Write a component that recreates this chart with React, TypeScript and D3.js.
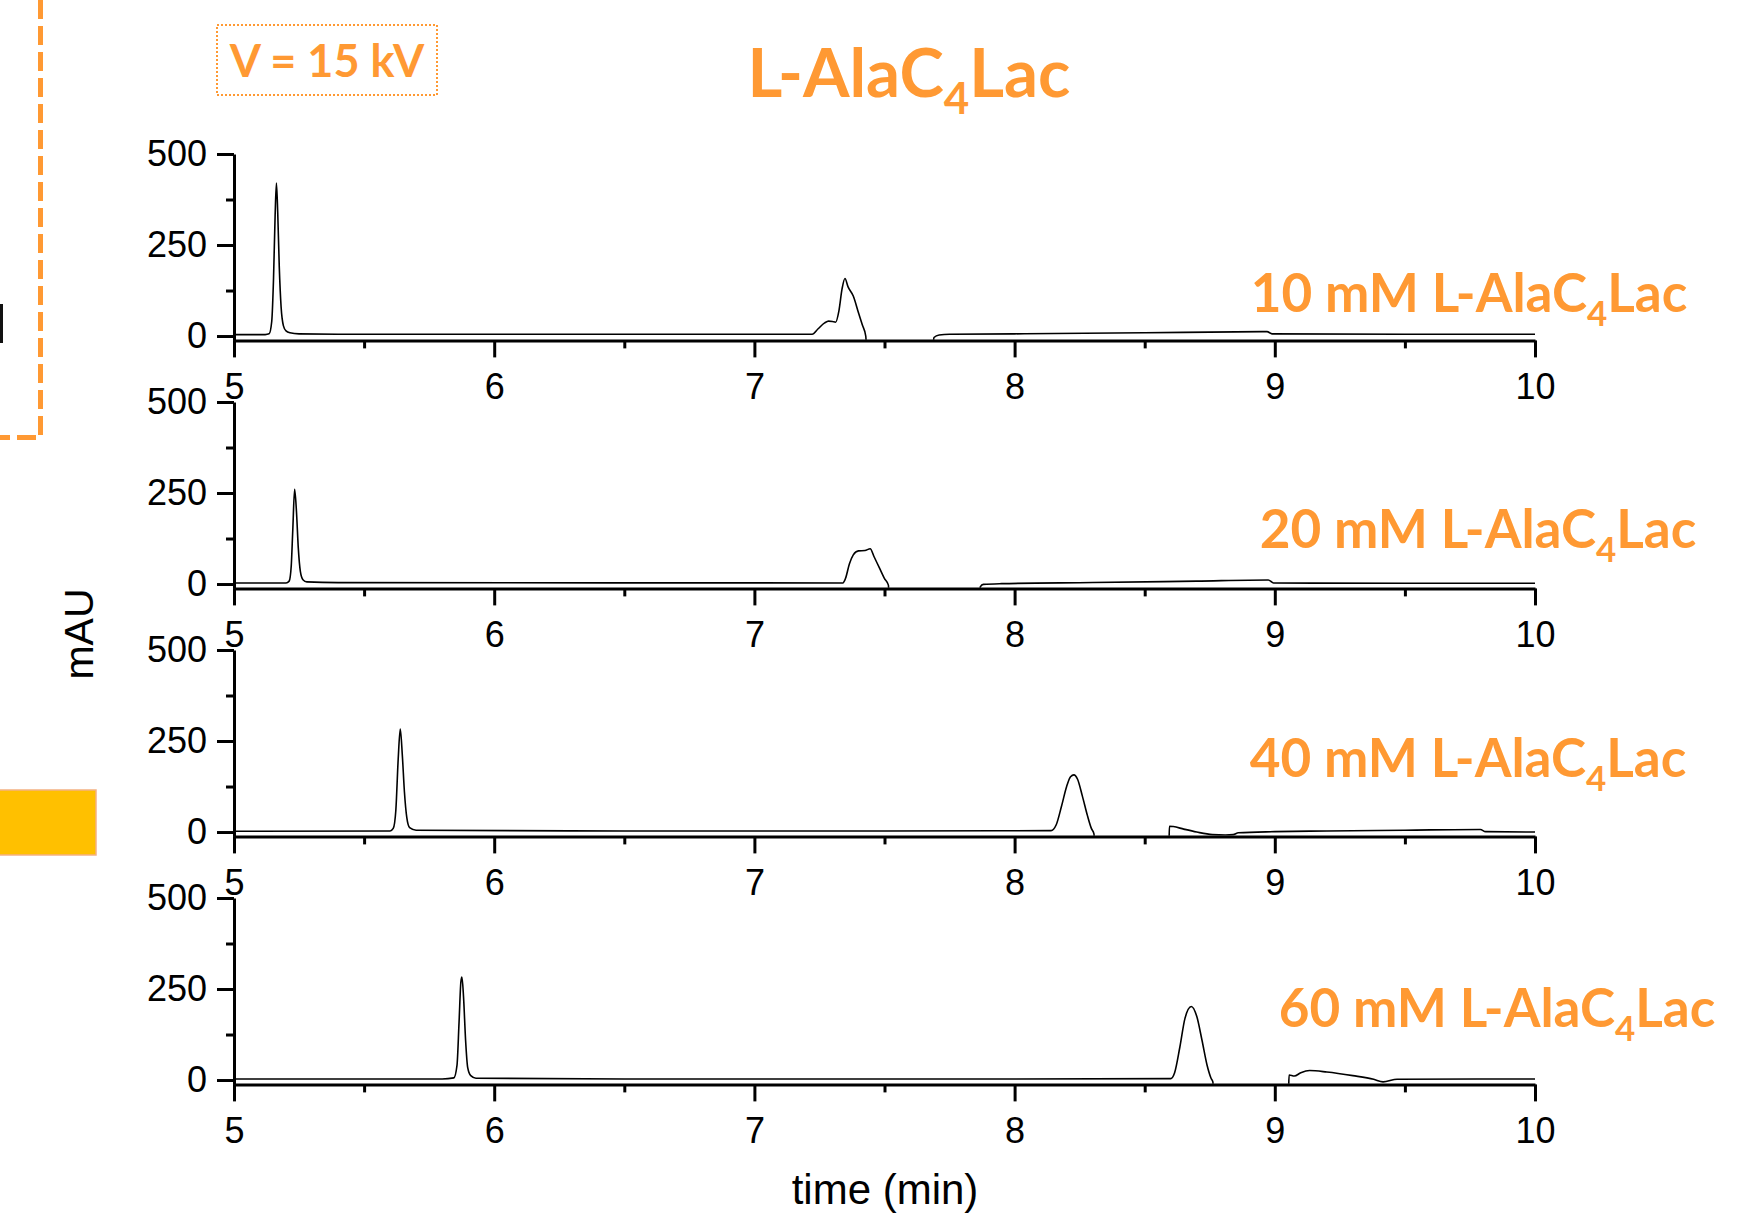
import React, { useEffect, useRef } from "react";
import * as d3 from "d3";

// electropherograms, [time (min), mAU]
const trace10 = [
  [5.0, 4], [5.12, 4], [5.135, 6], [5.145, 40], [5.152, 160], [5.158, 330], [5.163, 420],
  [5.168, 340], [5.174, 190], [5.181, 80], [5.19, 28], [5.2, 14], [5.215, 9], [5.25, 6],
  [5.4, 5], [6.5, 5], [7.222, 5], [7.245, 20], [7.27, 36], [7.285, 41], [7.3, 40],
  [7.312, 38], [7.325, 70], [7.337, 130], [7.348, 158], [7.36, 135], [7.38, 110], [7.4, 64],
  [7.415, 30], [7.428, 0], [7.432, -40], [7.685, -40], [7.69, -4], [7.71, 3], [7.75, 5],
  [8.0, 6], [8.5, 9], [8.97, 12], [8.99, 6], [9.5, 5], [10.0, 5],
];
const trace20 = [
  [5.0, 3], [5.2, 3], [5.212, 8], [5.22, 50], [5.226, 150], [5.233, 260], [5.24, 200],
  [5.247, 100], [5.255, 35], [5.265, 12], [5.28, 6], [5.4, 4], [7.34, 3], [7.35, 15],
  [7.365, 55], [7.38, 80], [7.4, 91], [7.425, 92], [7.445, 97], [7.46, 75], [7.48, 45],
  [7.5, 15], [7.515, -3], [7.518, -40], [7.866, -40], [7.868, -8], [7.88, -1], [7.95, 1],
  [8.3, 4], [8.7, 8], [8.975, 11], [8.995, 3], [9.5, 2], [10.0, 2],
];
const trace40 = [
  [5.0, 2], [5.6, 3], [5.612, 10], [5.622, 60], [5.631, 200], [5.639, 283], [5.647, 210],
  [5.655, 110], [5.664, 40], [5.675, 12], [5.7, 5], [6.5, 3], [7.5, 3], [8.14, 4],
  [8.16, 20], [8.18, 70], [8.2, 125], [8.215, 152], [8.228, 157], [8.242, 145], [8.26, 100],
  [8.28, 45], [8.295, 10], [8.305, -5], [8.308, -40], [8.593, -40], [8.595, 16], [8.61, 15],
  [8.65, 8], [8.7, 0], [8.76, -7], [8.81, -8], [8.84, -7], [8.86, -2], [9.0, 1], [9.2, 3],
  [9.5, 5], [9.79, 7], [9.81, 1], [10.0, 0],
];
const trace60 = [
  [5.0, 3], [5.8, 3], [5.845, 6], [5.857, 40], [5.865, 160], [5.872, 270], [5.876, 283],
  [5.882, 230], [5.89, 110], [5.898, 35], [5.91, 12], [5.93, 5], [6.5, 3], [8.0, 3],
  [8.6, 4], [8.615, 20], [8.635, 90], [8.655, 170], [8.679, 202], [8.7, 175], [8.72, 110],
  [8.74, 40], [8.755, 5], [8.762, -5], [8.765, -40], [9.052, -40], [9.055, 14], [9.075, 11],
  [9.1, 20], [9.134, 26], [9.2, 22], [9.3, 12], [9.38, 2], [9.416, -5], [9.47, 2], [10.0, 3],
];

const traces = [trace10, trace20, trace40, trace60];
const concentrations = ["10", "20", "40", "60"];
const xTicks = [5, 6, 7, 8, 9, 10];
const xMinorTicks = [5.5, 6.5, 7.5, 8.5, 9.5];
const yTicks = [0, 250, 500];
const yMinorTicks = [125, 375];

const ORANGE = "#FF9933";
const AXIS_FONT = "'Liberation Sans', Arial, sans-serif";
const LABEL_FONT = "Lato, 'Open Sans', sans-serif";

const App = () => {
  const svgRef = useRef(null);

  useEffect(() => {
    const svg = d3.select(svgRef.current);
    svg.selectAll("*").remove();

    const x = d3.scaleLinear().domain([5, 10]).range([234, 1535]);
    const panelTops = [154, 402, 650, 898];
    const panelHeight = 186.4;
    const labelCenters = [1469, 1478, 1468, 1497];
    const labelBaselines = [312, 548, 777, 1027];

    // decorations on the left edge
    svg.append("path")
      .attr("d", "M40.5,0 V437.5 H0")
      .attr("fill", "none")
      .attr("stroke", ORANGE)
      .attr("stroke-width", 5)
      .attr("stroke-dasharray", "19 7");
    svg.append("rect")
      .attr("x", 0).attr("y", 304).attr("width", 3).attr("height", 39)
      .attr("fill", "#111");
    svg.append("rect")
      .attr("x", -2).attr("y", 790).attr("width", 98).attr("height", 65)
      .attr("fill", "#FFC000")
      .attr("stroke", "#F4B183")
      .attr("stroke-width", 1.5);

    // voltage box
    svg.append("rect")
      .attr("x", 217).attr("y", 25).attr("width", 220).attr("height", 70)
      .attr("fill", "none")
      .attr("stroke", ORANGE)
      .attr("stroke-width", 2)
      .attr("stroke-dasharray", "2 2");
    svg.append("text")
      .attr("x", 327).attr("y", 77)
      .attr("text-anchor", "middle")
      .attr("font-family", LABEL_FONT)
      .attr("font-weight", 700)
      .attr("font-size", 45)
      .attr("fill", ORANGE)
      .text("V = 15 kV");

    // title
    const title = svg.append("text")
      .attr("x", 909).attr("y", 97)
      .attr("text-anchor", "middle")
      .attr("font-family", LABEL_FONT)
      .attr("font-weight", 700)
      .attr("font-size", 67)
      .attr("fill", ORANGE);
    title.append("tspan").text("L-AlaC");
    title.append("tspan").attr("font-size", 44).attr("dy", 17).text("4");
    title.append("tspan").attr("dy", -17).text("Lac");

    traces.forEach((trace, i) => {
      const top = panelTops[i];
      const y = d3.scaleLinear().domain([-12, 500]).range([top + panelHeight, top]);
      const g = svg.append("g");

      const clipId = `clip-${i}`;
      svg.append("clipPath").attr("id", clipId)
        .append("rect")
        .attr("x", x(5)).attr("y", top - 10)
        .attr("width", x(10) - x(5))
        .attr("height", y(-10) - top + 10);

      // x axis
      const xAxis = g.append("g")
        .attr("transform", `translate(0,${y(-12)})`)
        .call(d3.axisBottom(x).tickValues(xTicks).tickSize(17).tickSizeOuter(0)
          .tickPadding(16).tickFormat(d3.format("d")));
      g.append("g")
        .attr("transform", `translate(0,${y(-12)})`)
        .call(d3.axisBottom(x).tickValues(xMinorTicks).tickSize(8).tickSizeOuter(0)
          .tickFormat(() => ""))
        .call((a) => a.select(".domain").remove());

      // y axis
      const yAxis = g.append("g")
        .attr("transform", `translate(${x(5)},0)`)
        .call(d3.axisLeft(y).tickValues(yTicks).tickSize(17).tickSizeOuter(0)
          .tickPadding(10).tickFormat(d3.format("d")));
      g.append("g")
        .attr("transform", `translate(${x(5)},0)`)
        .call(d3.axisLeft(y).tickValues(yMinorTicks).tickSize(8).tickSizeOuter(0)
          .tickFormat(() => ""))
        .call((a) => a.select(".domain").remove());

      g.selectAll(".domain, .tick line")
        .attr("stroke", "#000")
        .attr("stroke-width", 3);
      [xAxis, yAxis].forEach((a) =>
        a.selectAll("text")
          .attr("font-family", AXIS_FONT)
          .attr("font-size", 36)
          .attr("fill", "#000"));

      // trace
      const line = d3.line()
        .x((d) => x(d[0]))
        .y((d) => y(d[1]))
        .curve(d3.curveMonotoneX);
      g.append("path")
        .datum(trace)
        .attr("clip-path", `url(#${clipId})`)
        .attr("d", line)
        .attr("fill", "none")
        .attr("stroke", "#000")
        .attr("stroke-width", 1.6);

      // concentration label
      const lab = svg.append("text")
        .attr("x", labelCenters[i]).attr("y", labelBaselines[i])
        .attr("text-anchor", "middle")
        .attr("font-family", LABEL_FONT)
        .attr("font-weight", 700)
        .attr("font-size", 53)
        .attr("fill", ORANGE);
      lab.append("tspan").text(`${concentrations[i]} mM L-AlaC`);
      lab.append("tspan").attr("font-size", 35).attr("dy", 14).text("4");
      lab.append("tspan").attr("dy", -14).text("Lac");
    });

    // axis titles
    svg.append("text")
      .attr("transform", "translate(93,634) rotate(-90)")
      .attr("text-anchor", "middle")
      .attr("font-family", AXIS_FONT)
      .attr("font-size", 41)
      .attr("fill", "#000")
      .text("mAU");
    svg.append("text")
      .attr("x", 885).attr("y", 1204)
      .attr("text-anchor", "middle")
      .attr("font-family", AXIS_FONT)
      .attr("font-size", 42)
      .attr("fill", "#000")
      .text("time (min)");
  }, []);

  return (
    <svg
      ref={svgRef}
      width={1758}
      height={1218}
      style={{ position: "absolute", left: 0, top: 0, display: "block", background: "#fff" }}
    ></svg>
  );
};

export default App;
